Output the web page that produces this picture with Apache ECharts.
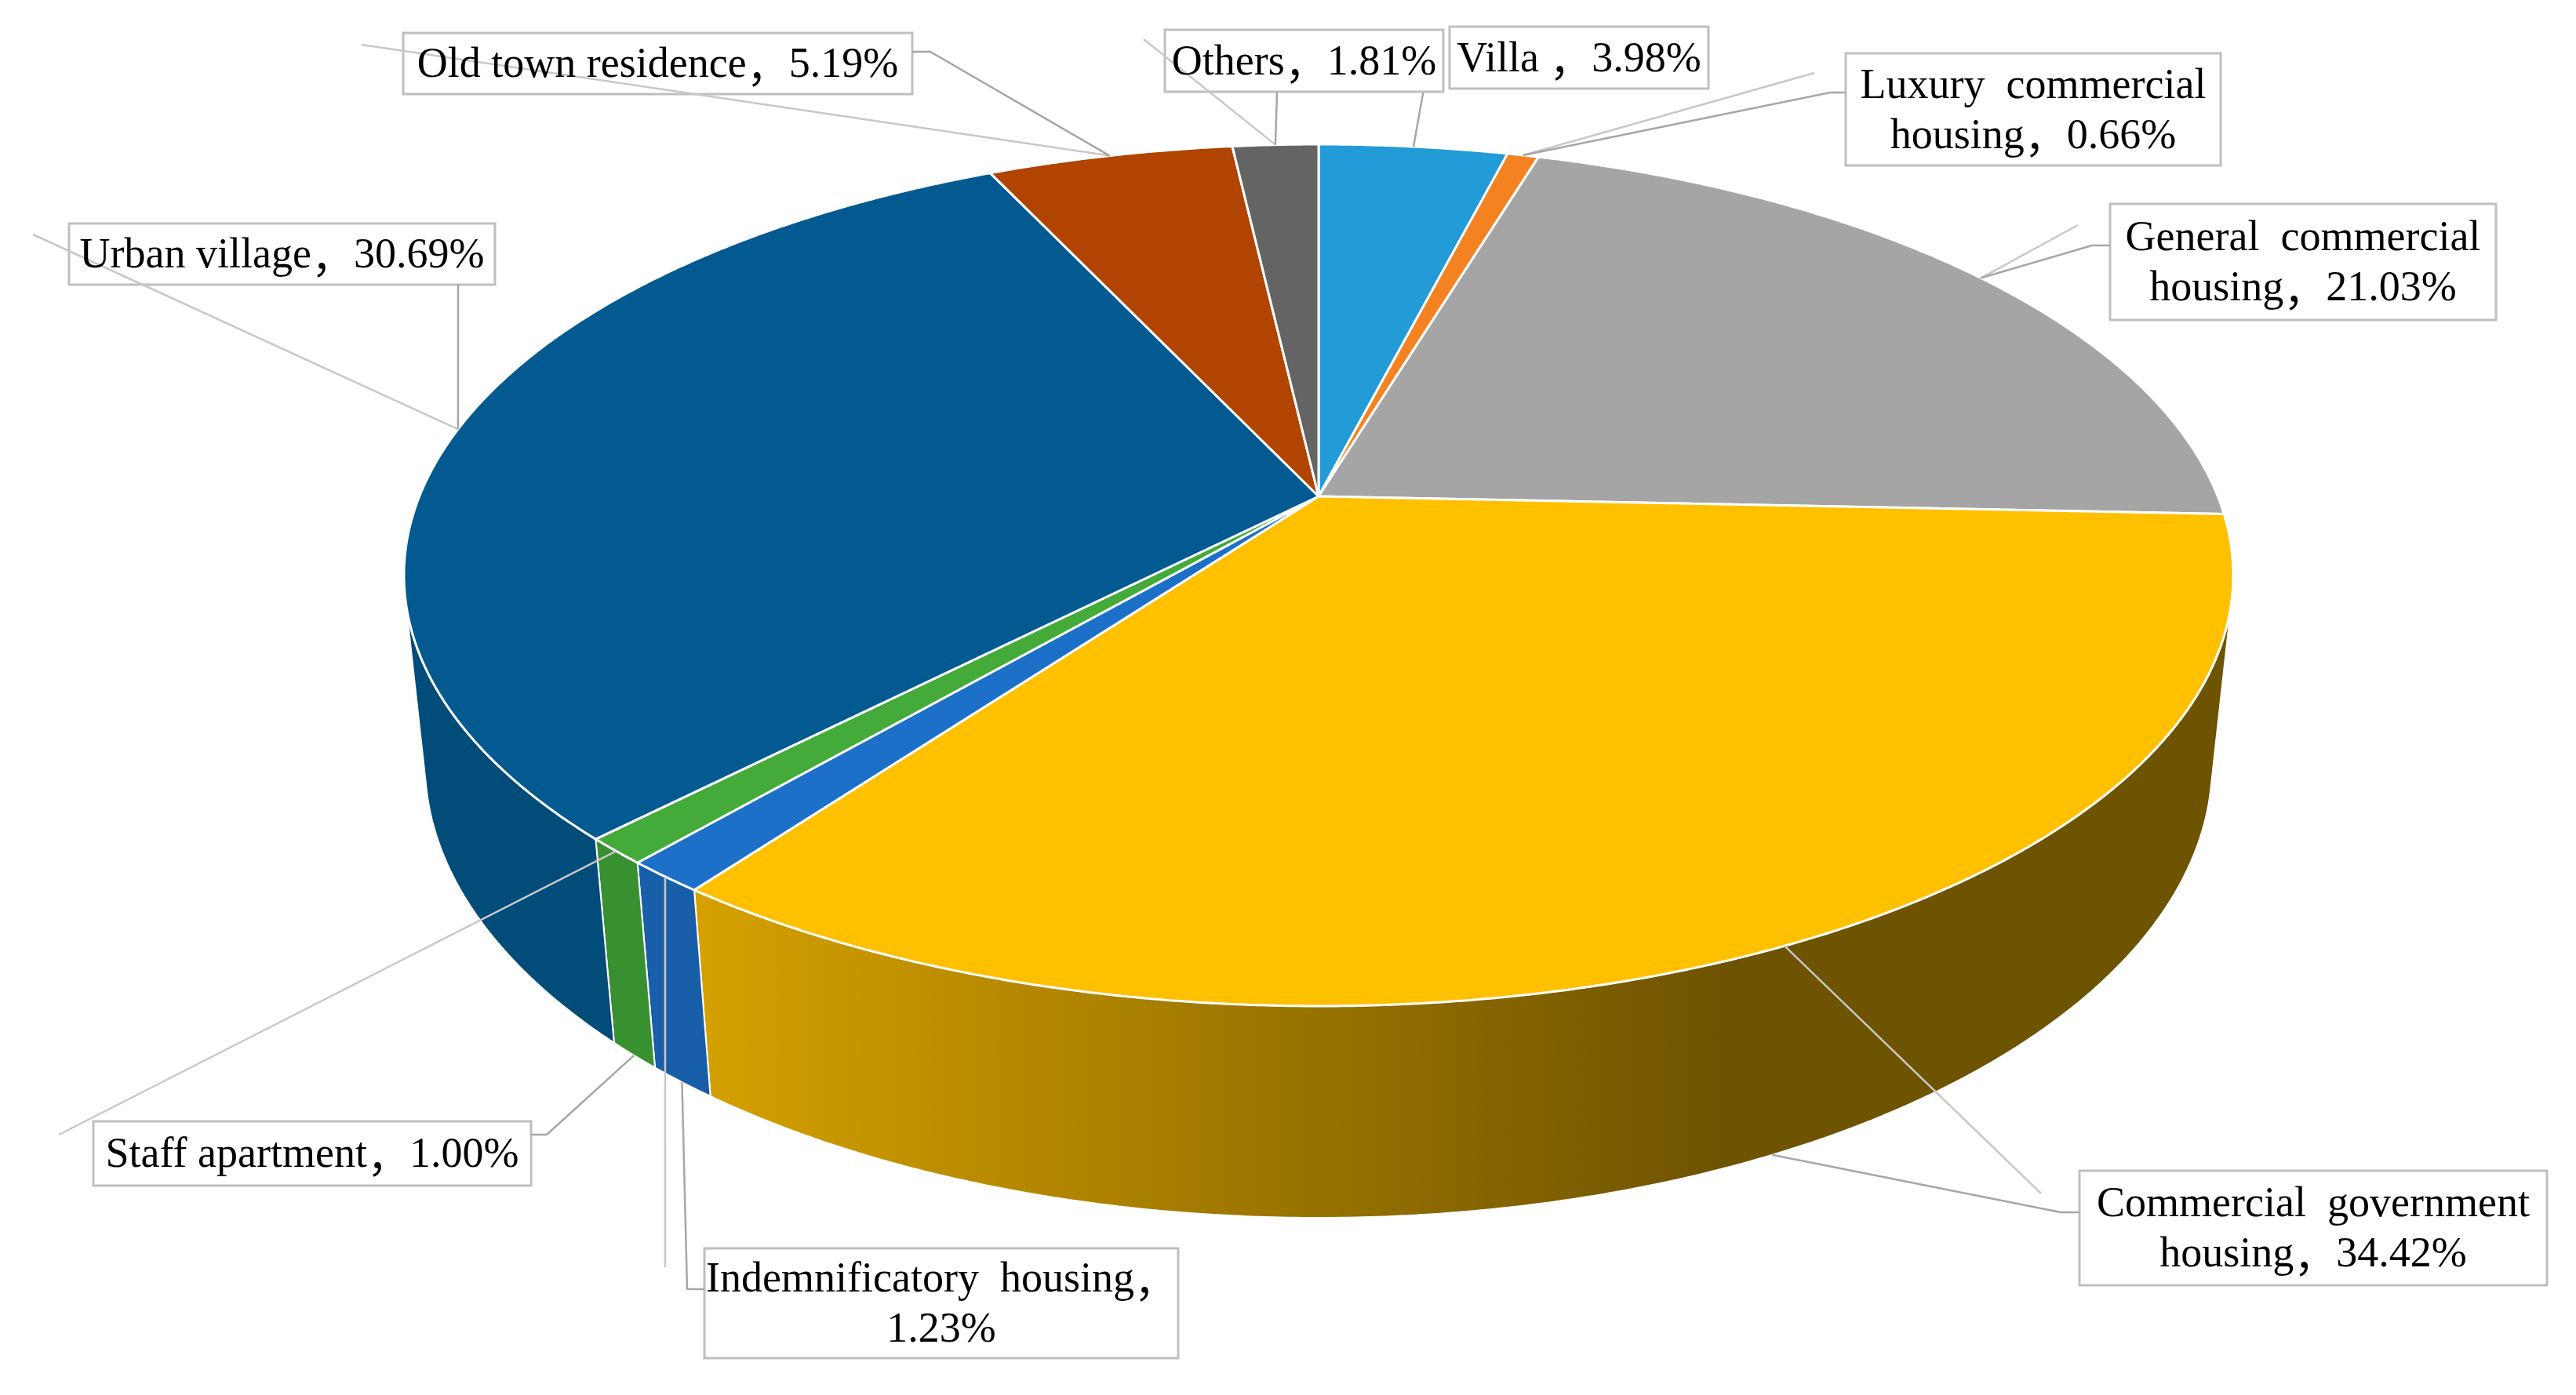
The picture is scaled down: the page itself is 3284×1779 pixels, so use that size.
<!DOCTYPE html>
<html>
<head>
<meta charset="utf-8">
<title>Housing type shares</title>
<script src="https://cdn.jsdelivr.net/npm/echarts@6/dist/echarts.min.js"></script>
<style>
  html, body { margin: 0; padding: 0; background: #fff; }
  #main { width: 3284px; height: 1779px; }
</style>
</head>
<body>
<div id="main"></div>
<script>
// housing types, clockwise from 12 o'clock
var categories = ['Villa', 'Luxury commercial housing', 'General commercial housing',
  'Commercial government housing', 'Indemnificatory housing', 'Staff apartment',
  'Urban village', 'Old town residence', 'Others'];
var shares = [3.98, 0.66, 21.03, 34.42, 1.23, 1.00, 30.69, 5.19, 1.81];
var topColors = ['#229BD6', '#F58220', '#A5A5A5', '#FFC000', '#1C70C8',
  '#44AB3A', '#025A91', '#B04400', '#646464'];

// fake 3d camera (px of a 3284 wide page)
var cam = { cx: 1681, cy: 633, f: 5554, dist: 4.845, elev: 27.6, thick: 0.2378 };

// label boxes: box [x,y,w,h], leader start (+ elbow), anchor on top or bottom rim,
// stray = start of the old excel leader that still points at the top rim
var labelLayout = [
  { box: [1848, 34, 330, 79], lead: [[1815, 114]], anchor: 'top', gap: ' ' },
  { box: [2353, 68, 478, 143], lead: [[2353, 118], [2333, 118]], anchor: 'top', stray: [2313, 93], wrap: 2 },
  { box: [2690, 260, 492, 148], lead: [[2690, 313], [2667, 313]], anchor: 'top', stray: [2649, 287], wrap: 2 },
  { box: [2651, 1493, 596, 146], lead: [[2651, 1546], [2627, 1546]], anchor: 'bottom', stray: [2602, 1522], wrap: 2 },
  { box: [898, 1592, 604, 140], lead: [[898, 1644], [876, 1644]], anchor: 'bottom', stray: [848, 1616], wrap: 'pct' },
  { box: [119, 1430, 558, 82], lead: [[677, 1447], [697, 1447]], anchor: 'bottom', stray: [75, 1447] },
  { box: [88, 285, 543, 78], lead: [[584, 363]], anchor: 'top', stray: [42, 299] },
  { box: [514, 42, 649, 78], lead: [[1163, 66], [1186, 66]], anchor: 'top', stray: [461, 57] },
  { box: [1485, 38, 355, 79], lead: [[1628, 117]], anchor: 'top', stray: [1458, 50] }
];

var total = shares.reduce(function (a, b) { return a + b; }, 0);
var startAngles = [], endAngles = [];
var acc = 0;
shares.forEach(function (v) {
  startAngles.push(acc / total * 360);
  acc += v;
  endAngles.push(acc / total * 360);
});

var rad = Math.PI / 180;
var sinE = Math.sin(cam.elev * rad), cosE = Math.cos(cam.elev * rad);
// outer wall faces the viewer only on this range
var visFrom = Math.acos(-1 / (cam.dist * cosE)) / rad;
var visTo = 360 - visFrom;

function scaleOf(api) { return api.getWidth() / 3284; }

// alpha: degrees clockwise from 12 o'clock, z: 0 top, -thick bottom
function project(alpha, z, s) {
  var a = alpha * rad;
  var x = Math.sin(a), y = -Math.cos(a);
  var d = cam.dist - y * cosE - z * sinE;
  return [(cam.cx + cam.f * x / d) * s, (cam.cy + cam.f * (y * sinE - z * cosE) / d) * s];
}

function arc(a0, a1, z, s) {
  var n = Math.max(2, Math.ceil(Math.abs(a1 - a0) / 0.4));
  var pts = [];
  for (var k = 0; k <= n; k++) {
    pts.push(project(a0 + (a1 - a0) * k / n, z, s));
  }
  return pts;
}

function shade(hex, k) {
  var r = parseInt(hex.substr(1, 2), 16), g = parseInt(hex.substr(3, 2), 16), b = parseInt(hex.substr(5, 2), 16);
  return 'rgb(' + Math.round(r * k) + ',' + Math.round(g * k) + ',' + Math.round(b * k) + ')';
}

function renderSide(params, api) {
  var i = params.dataIndex, s = scaleOf(api);
  var lo = Math.max(startAngles[i], visFrom), hi = Math.min(endAngles[i], visTo);
  if (!(api.value(0) > 0) || hi <= lo) return { type: 'group', children: [] };
  var pts = arc(lo, hi, 0, s).concat(arc(hi, lo, -cam.thick, s));
  var c = topColors[i];
  return {
    type: 'polygon',
    shape: { points: pts },
    style: {
      fill: new echarts.graphic.LinearGradient(880 * s, 0, 2200 * s, 0, [
        { offset: 0, color: shade(c, 0.84) },
        { offset: 1, color: shade(c, 0.43) }
      ], true),
      stroke: '#fff',
      lineWidth: 2
    }
  };
}

function renderTop(params, api) {
  var i = params.dataIndex, s = scaleOf(api);
  var centre = [cam.cx * s, cam.cy * s];
  var pts = [centre].concat(arc(startAngles[i], endAngles[i], 0, s));
  return {
    type: 'polygon',
    shape: { points: pts },
    style: { fill: topColors[i], stroke: '#fff', lineWidth: 3, lineJoin: 'round' }
  };
}

// rich text: latin in serif, the full-width comma in a CJK face
function labelRich(i) {
  var lay = labelLayout[i];
  var pct = '{n|' + shares[i].toFixed(2) + '%}';
  var comma = '{n|' + (lay.gap || '') + '}{c|，}';
  var words = categories[i].split(' ');
  if (lay.wrap === 'pct') return '{n|' + words.join('  ') + '}' + comma + '\n' + pct;
  if (typeof lay.wrap === 'number') {
    return '{n|' + words.slice(0, lay.wrap).join('  ') + '}\n{n|' + words.slice(lay.wrap).join(' ') + '}' + comma + pct;
  }
  return '{n|' + categories[i] + '}' + comma + pct;
}

function renderLabel(params, api) {
  var i = params.dataIndex, s = scaleOf(api);
  var lay = labelLayout[i];
  var mid = (startAngles[i] + endAngles[i]) / 2;
  var topPt = project(mid, 0, s);
  var anchor = lay.anchor === 'bottom' ? project(mid, -cam.thick, s) : topPt;
  var b = lay.box;
  var children = [];
  children.push({
    type: 'rect',
    shape: { x: b[0] * s, y: b[1] * s, width: b[2] * s, height: b[3] * s },
    style: { fill: '#fff', stroke: '#BFBFBF', lineWidth: 3 * s }
  });
  if (lay.stray) {
    children.push({
      type: 'polyline',
      shape: { points: [[lay.stray[0] * s, lay.stray[1] * s], topPt] },
      style: { stroke: '#C8C8C8', lineWidth: 2.5 * s, fill: null }
    });
  }
  var lead = lay.lead.map(function (p) { return [p[0] * s, p[1] * s]; });
  lead.push(anchor);
  children.push({
    type: 'polyline',
    shape: { points: lead },
    style: { stroke: '#A6A6A6', lineWidth: 2.5 * s, fill: null }
  });
  children.push({
    type: 'text',
    style: {
      text: labelRich(i),
      x: (b[0] + b[2] / 2) * s,
      y: (b[1] + b[3] / 2 + 3) * s,
      align: 'center',
      verticalAlign: 'middle',
      fill: '#000',
      rich: {
        n: { fontFamily: 'Liberation Serif', fontSize: 54 * s, lineHeight: 64 * s, fill: '#000' },
        c: { fontFamily: 'Noto Sans CJK SC', fontSize: 54 * s, lineHeight: 64 * s, fill: '#000' }
      }
    }
  });
  return { type: 'group', children: children };
}

var chart = echarts.init(document.getElementById('main'));
chart.setOption({
  animation: false,
  backgroundColor: '#fff',
  series: [
    { type: 'custom', name: 'sides', coordinateSystem: 'none', silent: true, z: 1,
      renderItem: renderSide, data: shares },
    { type: 'custom', name: 'tops', coordinateSystem: 'none', silent: true, z: 2,
      renderItem: renderTop, data: shares },
    { type: 'custom', name: 'labels', coordinateSystem: 'none', silent: true, z: 3,
      renderItem: renderLabel, data: shares }
  ]
});
</script>
</body>
</html>
